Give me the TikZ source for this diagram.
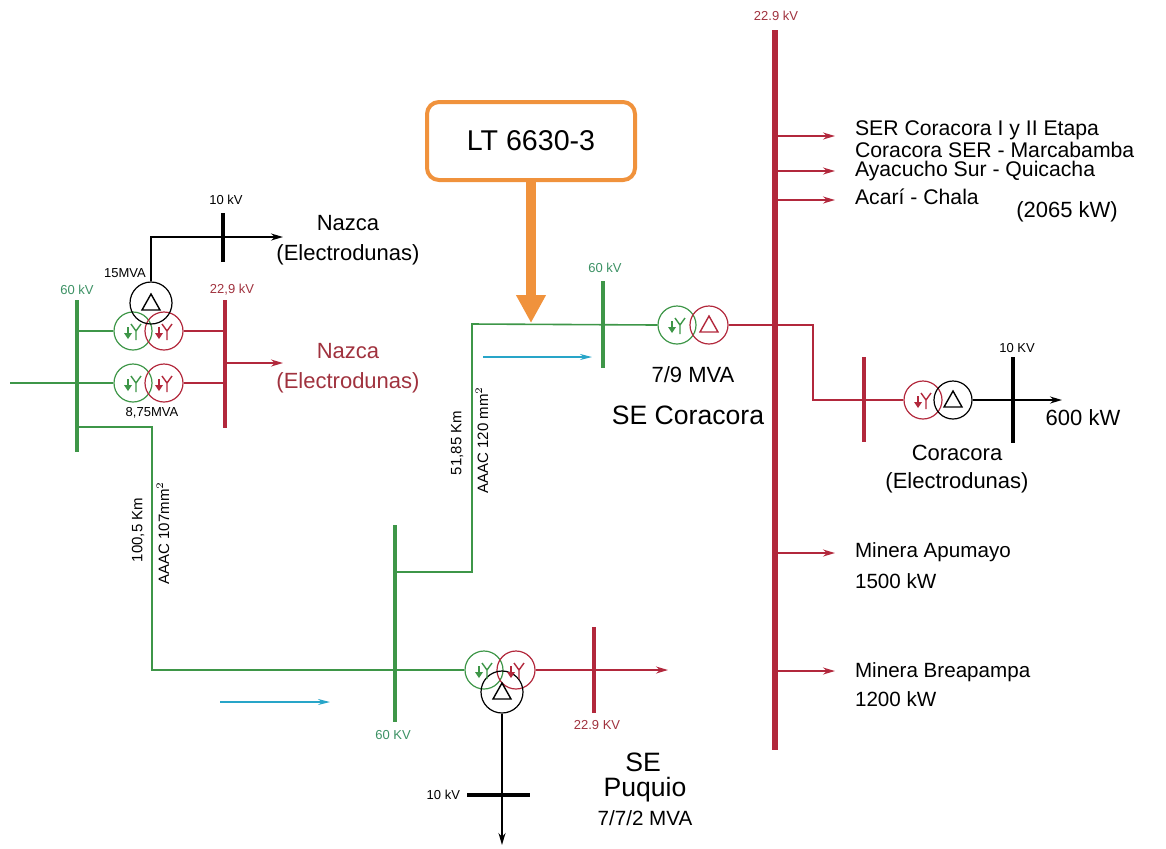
\documentclass[tikz,border=0pt]{standalone}
\usepackage{fontspec}
\setmainfont{Liberation Sans}
\usetikzlibrary{arrows.meta}
\definecolor{lgreen}{RGB}{62,150,72}
\definecolor{tgreen}{RGB}{60,145,100}
\definecolor{lred}{RGB}{178,40,60}
\definecolor{tred}{RGB}{160,50,62}
\definecolor{lcyan}{RGB}{40,165,200}
\definecolor{lorange}{RGB}{240,146,60}
\tikzset{
  gline/.style={lgreen,line width=0.8pt},
  rline/.style={lred,line width=0.8pt},
  kline/.style={black,line width=0.8pt},
  gbus/.style={lgreen,line width=2.4pt},
  rbus/.style={lred,line width=2.2pt},
  kbus/.style={black,line width=2pt},
  tip/.style={-{Stealth[length=6pt,width=3.5pt]}},
  flow/.style={lcyan,line width=0.8pt,-{Stealth[length=6pt,width=3pt]}},
  wind/.style={circle,draw,line width=0.6pt,minimum size=#1,inner sep=0pt},
  wind/.default=19pt,
  tiny/.style={font=\fontsize{6.5}{7}\selectfont},
  lbl/.style={font=\fontsize{7.5}{8}\selectfont},
  txt/.style={font=\fontsize{11}{15}\selectfont},
  feed/.style={font=\fontsize{10.6}{11}\selectfont,anchor=west},
  big/.style={font=\fontsize{13.3}{14}\selectfont},
  wye/.pic={
    \draw[line width=0.7pt] (3,0) -- (3,9) (3,0) -- (-2,-7) (3,0) -- (8,-7);
    \draw[line width=0.7pt] (-5,-4) -- (-5,3);
    \fill (-9,2) -- (-1,2) -- (-5,8) -- cycle;
  },
  delta/.pic={\draw[line width=0.7pt] (0,-9) -- (-9,7) -- (9,7) -- cycle;}
}
\begin{document}
\begin{tikzpicture}[x=0.5pt,y=-0.5pt]
  \useasboundingbox (0,0) rectangle (1166,848);
  % SE Nazca
  \coordinate (nzG1) at (77,300);
  \coordinate (nzG2) at (77,452);
  \coordinate (nzR1) at (225,300);
  \coordinate (nzR2) at (225,428);
  \coordinate (nzK1) at (223,213);
  \coordinate (nzK2) at (223,262);
  \coordinate (nzIn) at (10,383);
  \coordinate (nzRo) at (225,363);
  \coordinate (nzRe) at (283,363);
  \coordinate (nzKe) at (283,237);
  \node[wind,draw=lgreen] (nzA1) at (133,331) {};
  \node[wind,draw=lred] (nzA2) at (164,331) {};
  \node[wind,draw=lgreen] (nzB1) at (133,383) {};
  \node[wind,draw=lred] (nzB2) at (164,383) {};
  \node[wind=21pt] (nzD) at (151,303) {};
  \pic[lgreen] at (nzA1) {wye};
  \pic[lred] at (nzA2) {wye};
  \pic[lgreen] at (nzB1) {wye};
  \pic[lred] at (nzB2) {wye};
  \pic at (nzD) {delta};
  \draw[gbus] (nzG1) -- (nzG2);
  \draw[rbus] (nzR1) -- (nzR2);
  \draw[kbus] (nzK1) -- (nzK2);
  \draw[gline] (nzIn) -- (nzB1.west);
  \draw[gline] (nzG1 |- nzA1) -- (nzA1.west);
  \draw[rline] (nzA2.east) -- (nzR1 |- nzA2);
  \draw[rline] (nzB2.east) -- (nzR1 |- nzB2);
  \draw[rline,tip] (nzRo) -- (nzRe);
  \draw[kline,tip] (nzD.north) |- (nzKe);
  \node[tiny,tgreen] (nzG) at (77,290) {60 kV};
  \node[tiny,tred] (nzR) at (232,290) {22,9 kV};
  \node[tiny] (nzK) at (226,200) {10 kV};
  \node[tiny] (nzDt) at (125,273) {15MVA};
  \node[tiny] (nzBt) at (152,413) {8,75MVA};
  \node[txt,align=center] (nzKl) at (348,240) {Nazca\\(Electrodunas)};
  \node[txt,align=center,tred] (nzRl) at (348,368) {Nazca\\(Electrodunas)};

  % LT Nazca - Puquio
  \coordinate (nzL) at (77,427);
  \coordinate (l1a) at (152,427);
  \coordinate (l1b) at (152,670);
  \node[wind,draw=lgreen] (pqA) at (484,670) {};
  \node[wind,draw=lred] (pqB) at (516,670) {};
  \node[wind=21pt] (pqD) at (502,692) {};
  \pic[lgreen] at (pqA) {wye};
  \pic[lred] at (pqB) {wye};
  \pic at (pqD) {delta};
  \draw[gline] (nzL) -- (l1a) -- (l1b) -- (pqA.west);
  \node[lbl,rotate=90] (l1km) at (138,530) {100,5 Km};
  \node[lbl,rotate=90] (l1c) at (163,533) {AAAC 107mm$^2$};
  \coordinate (f1a) at (220,702);
  \coordinate (f1b) at (330,702);
  \draw[flow] (f1a) -- (f1b);

  % SE Puquio
  \coordinate (pqG1) at (395,525);
  \coordinate (pqG2) at (395,722);
  \coordinate (pqR1) at (594,627);
  \coordinate (pqR2) at (594,713);
  \coordinate (pqRe) at (668,670);
  \coordinate (pqDn) at (502,845);
  \coordinate (pqK1) at (467,795);
  \coordinate (pqK2) at (530,795);
  \draw[gbus] (pqG1) -- (pqG2);
  \draw[rbus] (pqR1) -- (pqR2);
  \draw[kbus] (pqK1) -- (pqK2);
  \draw[rline,tip] (pqB.east) -- (pqRe);
  \draw[kline,tip] (pqD.south) -- (pqDn);
  \node[tiny,tgreen] (pqG) at (393,735) {60 KV};
  \node[tiny,tred] (pqR) at (597,725) {22.9 KV};
  \node[tiny,anchor=east] (pqK) at (pqK1) {10 kV};
  \node[big] (pqSE) at (643,762) {SE};
  \node[big] (pqN) at (645,790) {Puquio};
  \node[txt,font=\fontsize{10.3}{11}\selectfont] (pqM) at (645,818) {7/7/2 MVA};

  % LT 6630-3 Puquio - Coracora
  \coordinate (pqL) at (395,572);
  \coordinate (l2a) at (472,572);
  \coordinate (l2b) at (472,324);
  \node[wind,draw=lgreen] (crA) at (677,325) {};
  \node[wind,draw=lred] (crB) at (709,325) {};
  \pic[lgreen] at (crA) {wye};
  \pic[lred] at (crB) {delta};
  \draw[gline] (pqL) -- (l2a) -- (l2b) -- (crA.west);
  \node[lbl,rotate=90] (l2km) at (457,443) {51,85 Km};
  \node[lbl,rotate=90] (l2c) at (482,440) {AAAC 120 mm$^2$};
  \coordinate (f2a) at (483,357);
  \coordinate (f2b) at (592,357);
  \draw[flow] (f2a) -- (f2b);
  \node[draw=lorange,line width=2pt,rounded corners=6pt,fill=white,
    minimum width=104pt,minimum height=39pt,font=\fontsize{14.3}{15}\selectfont] (lt) at (531,141) {LT 6630-3};
  \coordinate (ltT) at (531,323);
  \draw[lorange,line width=5pt,-{Triangle[length=14pt,width=14pt]}] (lt.south) -- (ltT);

  % SE Coracora
  \coordinate (crG1) at (603,281);
  \coordinate (crG2) at (603,368);
  \coordinate (mbT) at (775,30);
  \coordinate (mbB) at (775,750);
  \coordinate (crJ) at (813,325);
  \coordinate (crR1) at (864,357);
  \coordinate (crR2) at (864,442);
  \coordinate (crK1) at (1013,357);
  \coordinate (crK2) at (1013,443);
  \coordinate (crOut) at (1062,400);
  \node[wind,draw=lred] (crC) at (923,400) {};
  \node[wind] (crE) at (953,400) {};
  \pic[lred] at (crC) {wye};
  \pic at (crE) {delta};
  \draw[gbus] (crG1) -- (crG2);
  \draw[lred,line width=3pt] (mbT) -- (mbB);
  \draw[rbus] (crR1) -- (crR2);
  \draw[kbus] (crK1) -- (crK2);
  \draw[rline] (crB.east) -- (crJ) |- (crC.west);
  \draw[kline,tip] (crE.east) -- (crOut);
  \node[tiny,tgreen] (crG) at (605,268) {60 kV};
  \node[tiny,tred] (mbL) at (776,16) {22.9 kV};
  \node[tiny] (crK) at (1017,348) {10 KV};
  \node[txt] (crM) at (693,375) {7/9 MVA};
  \node[big] (crSE) at (688,415) {SE Coracora};
  \node[txt,align=center,font=\fontsize{11}{14}\selectfont] (crEl) at (957,469) {Coracora\\(Electrodunas)};
  \node[txt] (crP) at (1083,418) {600 kW};

  % feeders
  \foreach \y/\n in {136/a,171/b,200/c,553/d,671/e}{
    \coordinate (fs\n) at (775,\y);
    \coordinate (fe\n) at (835,\y);
    \draw[rline,tip] (fs\n) -- (fe\n);
  }
  \node[feed] (fd1) at (848,130) {SER Coracora I y II Etapa};
  \node[feed] (fd2) at (848,150) {Coracora SER - Marcabamba};
  \node[feed] (fd3) at (848,171) {Ayacucho Sur - Quicacha};
  \node[feed] (fd4) at (848,197) {Acarí - Chala};
  \node[txt] (fdP) at (1067,212) {(2065 kW)};
  \node[feed,font=\fontsize{10.3}{11}\selectfont] (fd5) at (848,552) {Minera Apumayo};
  \node[feed,font=\fontsize{10.3}{11}\selectfont] (fd5p) at (848,581) {1500 kW};
  \node[feed,font=\fontsize{10.3}{11}\selectfont] (fd6) at (848,672) {Minera Breapampa};
  \node[feed,font=\fontsize{10.3}{11}\selectfont] (fd6p) at (848,699) {1200 kW};
\end{tikzpicture}
\end{document}
